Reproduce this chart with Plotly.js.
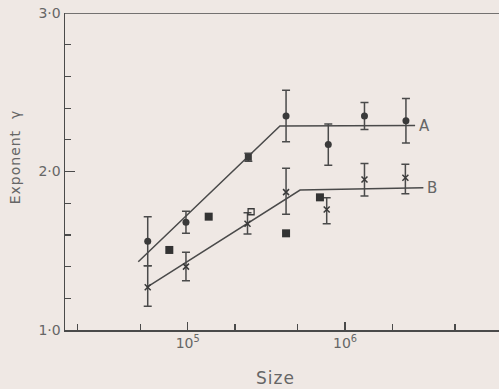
<!DOCTYPE html>
<html>
<head>
<meta charset="utf-8">
<script src="https://cdn.plot.ly/plotly-3.0.1.min.js"></script>
<style>html,body{margin:0;padding:0;background:#efe8e4;}#chart{width:499px;height:389px;}
.annotation-text{letter-spacing:1px;}</style>
</head>
<body>
<div id="chart"></div>
<script>
// Series A (filled circles)
var sizeA = [5.57e4, 9.75e4, 2.43e5, 4.22e5, 7.83e5, 1.33e6, 2.44e6];
var gammaA = [1.56, 1.68, 2.09, 2.35, 2.17, 2.35, 2.32];
var errA = [0.155, 0.07, 0.025, 0.163, 0.13, 0.085, 0.14];
var symA = ['circle', 'circle', 'square', 'circle', 'circle', 'circle', 'circle'];

// Series B (crosses)
var sizeB = [5.57e4, 9.75e4, 2.4e5, 4.22e5, 7.65e5, 1.33e6, 2.42e6];
var gammaB = [1.27, 1.40, 1.67, 1.87, 1.76, 1.95, 1.96];
var errBplus = [0.135, 0.09, 0.07, 0.15, 0.075, 0.10, 0.085];
var errBminus = [0.12, 0.09, 0.065, 0.14, 0.09, 0.105, 0.10];

// Filled squares
var sizeC = [7.64e4, 1.36e5, 4.22e5, 6.93e5];
var gammaC = [1.505, 1.715, 1.61, 1.837];

// Open square
var sizeD = [2.53e5];
var gammaD = [1.746];

// Fitted lines
var fitAx = [4.85e4, 3.86e5, 2.79e6];
var fitAy = [1.431, 2.287, 2.29];
var fitBx = [5.48e4, 5.18e5, 3.15e6];
var fitBy = [1.269, 1.883, 1.898];

// Tick labels
var yTickVals = [1, 2, 3];
var yTickText = ['1·0', '2·0', '3·0'];
var xTickVals = [1e5, 1e6];
var xTickText = ['10<sup>5</sup>', '10<sup>6</sup>'];
var xMinorVals = [2e4, 5e4, 2e5, 5e5, 2e6, 5e6];

var ink = '#4a4a4a';
var mark = '#3a3a3a';
var txt = '#666666';

var traces = [
  {x: fitAx, y: fitAy, mode: 'lines', line: {color: ink, width: 1.5}, hoverinfo: 'skip'},
  {x: fitBx, y: fitBy, mode: 'lines', line: {color: ink, width: 1.5}, hoverinfo: 'skip'},
  {x: sizeA, y: gammaA, mode: 'markers',
   marker: {symbol: symA, size: 7, color: mark},
   error_y: {type: 'data', array: errA, visible: true, color: ink, thickness: 1.5, width: 4}},
  {x: sizeB, y: gammaB, mode: 'markers',
   marker: {symbol: 'x-thin-open', size: 6, color: mark, line: {color: mark, width: 1.5}},
   error_y: {type: 'data', symmetric: false, array: errBplus, arrayminus: errBminus, visible: true, color: ink, thickness: 1.5, width: 4}},
  {x: sizeC, y: gammaC, mode: 'markers', marker: {symbol: 'square', size: 8, color: '#333333'}},
  {x: sizeD, y: gammaD, mode: 'markers', marker: {symbol: 'square-open', size: 6, color: mark, line: {color: mark, width: 1.3}}}
];

var layout = {
  width: 499, height: 389,
  margin: {l: 65, r: 0, t: 13, b: 59},
  paper_bgcolor: '#efe8e4', plot_bgcolor: '#efe8e4',
  showlegend: false,
  font: {family: 'DejaVu Sans', size: 13, color: txt},
  xaxis: {
    type: 'log', range: [4.22, 6.979],
    showline: true, linecolor: ink, linewidth: 1.5,
    showgrid: false, zeroline: false,
    tickmode: 'array', tickvals: xTickVals, ticktext: xTickText,
    ticks: 'inside', ticklen: 8, tickcolor: ink, tickwidth: 1.2,
    tickfont: {size: 14, color: txt},
    minor: {tickmode: 'array', tickvals: xMinorVals, ticks: 'inside', ticklen: 6, tickcolor: ink, tickwidth: 1.2, showgrid: false}
  },
  yaxis: {
    range: [1, 3],
    showline: true, linecolor: ink, linewidth: 1.5,
    showgrid: false, zeroline: false,
    tickmode: 'array', tickvals: yTickVals, ticktext: yTickText,
    ticks: 'inside', ticklen: 10, tickcolor: ink, tickwidth: 1.2,
    tickfont: {size: 14, color: txt},
    minor: {dtick: 0.2, tick0: 1, ticks: 'inside', ticklen: 6, tickcolor: ink, tickwidth: 1.2, showgrid: false}
  },
  shapes: [
    {type: 'line', xref: 'paper', yref: 'y', x0: 0, x1: 1, y0: 3, y1: 3, line: {color: ink, width: 1.5}}
  ],
  annotations: [
    {text: 'A', xref: 'x', yref: 'y', x: Math.log10(fitAx[2]), y: fitAy[2], xanchor: 'left', yanchor: 'middle', xshift: 2, showarrow: false, font: {size: 15, color: txt}},
    {text: 'B', xref: 'x', yref: 'y', x: Math.log10(fitBx[2]), y: fitBy[2], xanchor: 'left', yanchor: 'middle', xshift: 2, showarrow: false, font: {size: 15, color: txt}},
    {text: 'Exponent  γ', xref: 'paper', yref: 'paper', x: -0.115, y: 0.545, xanchor: 'center', yanchor: 'middle', textangle: -90, showarrow: false, font: {size: 14, color: txt}},
    {text: 'Size', xref: 'paper', yref: 'paper', x: 0.485, y: -0.115, xanchor: 'center', yanchor: 'top', showarrow: false, font: {size: 17, color: txt}}
  ]
};

Plotly.newPlot('chart', traces, layout, {displayModeBar: false, staticPlot: true});
</script>
</body>
</html>
